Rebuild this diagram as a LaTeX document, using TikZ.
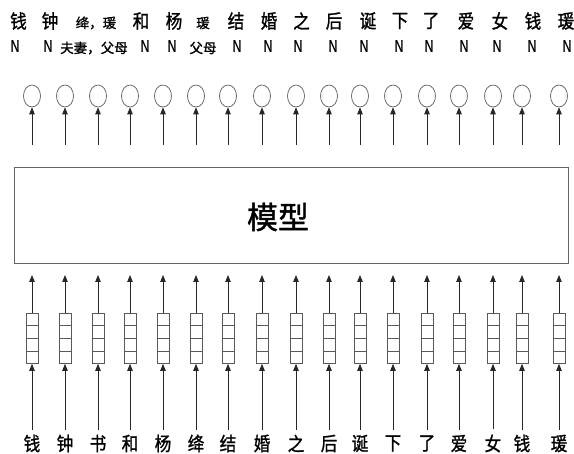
\documentclass[tikz,border=0pt]{standalone}
\usepackage{fontspec}
\newfontfamily\cjk[FakeBold=1.2]{Noto Sans CJK SC}
\newfontfamily\lat[FakeBold=1]{Liberation Sans}
\usetikzlibrary{shapes.geometric,arrows.meta,calc}
\tikzset{
  big/.style={inner sep=0pt,font=\fontsize{18}{20}\cjk},
  small/.style={inner sep=0pt,font=\fontsize{13.5}{15}\cjk},
  nn/.style={inner sep=0pt,font=\fontsize{16.8}{18}\lat},
  outc/.style={ellipse,draw=black!65,line width=0.7pt,minimum width=17pt,minimum height=22pt,inner sep=0pt},
  vec/.style={rectangle,draw=black!65,line width=0.7pt,minimum width=12pt,minimum height=50pt,inner sep=0pt},
  cell/.style={draw=black!65,line width=0.7pt},
  arr/.style={draw=black!85,line width=0.8pt,-{Triangle[length=7pt,width=5.5pt]}},
  model/.style={rectangle,draw=black!60,line width=0.8pt,inner sep=0pt},
}
\newcommand{\bigc}[1]{\scalebox{0.92}[1.06]{#1}}
\newcommand{\nsym}{\scalebox{0.7}[1]{N}}
\begin{document}
\begin{tikzpicture}[x=1pt,y=-1pt]
\useasboundingbox (0,0) rectangle (574,454);
% model box
\node[model,minimum width=554pt,minimum height=96pt] (box) at (291,215) {};
\node[inner sep=0pt,font=\fontsize{31}{33}\cjk] (mt) at (278,217) {模型};
% top row labels
\foreach \x/\t [count=\i] in {18.5/钱,50/钟,141/和,174/杨,236/结,269/婚,301.5/之,334/后,368/诞,400/下,431/了,466/爱,500/女,533/钱,566/瑗}
  \node[big] (t\i) at (\x,21) {\bigc{\t}};
\node[small] (ts1) at (96,23) {绛，瑗};
\node[small] (ts2) at (203,23) {瑗};
% second row
\foreach \x [count=\i] in {15,48,145,172,237,268,298,333,364,399,429,464,497,532,567}
  \node[nn] (n\i) at (\x,46) {\nsym};
\node[small] (ns1) at (94,48) {夫妻，父母};
\node[small] (ns2) at (203,48) {父母};
% columns
\foreach \x/\b [count=\i] in {32/钱,65/钟,98/书,130/和,163/杨,196/绛,228/结,262/婚,296/之,329/后,360/诞,393/下,427/了,459/爱,493/女,522/钱,559/瑗}{
  \node[outc] (c\i) at (\x,96) {};
  \coordinate (a\i) at (\x,145);
  \draw[arr] (a\i) -- (c\i.south);
  \node[vec] (s\i) at (\x,338.5) {};
  \foreach \f in {0.25,0.5,0.75}
    \draw[cell] ($(s\i.north west)!\f!(s\i.south west)$) -- ($(s\i.north east)!\f!(s\i.south east)$);
  \coordinate (u\i) at (\x,275);
  \draw[arr] (s\i.north) -- (u\i);
  \node[big] (b\i) at (\x,443.5) {\bigc{\b}};
  \draw[arr,shorten <=5pt] (b\i.north) -- (s\i.south);
}
\end{tikzpicture}
\end{document}
